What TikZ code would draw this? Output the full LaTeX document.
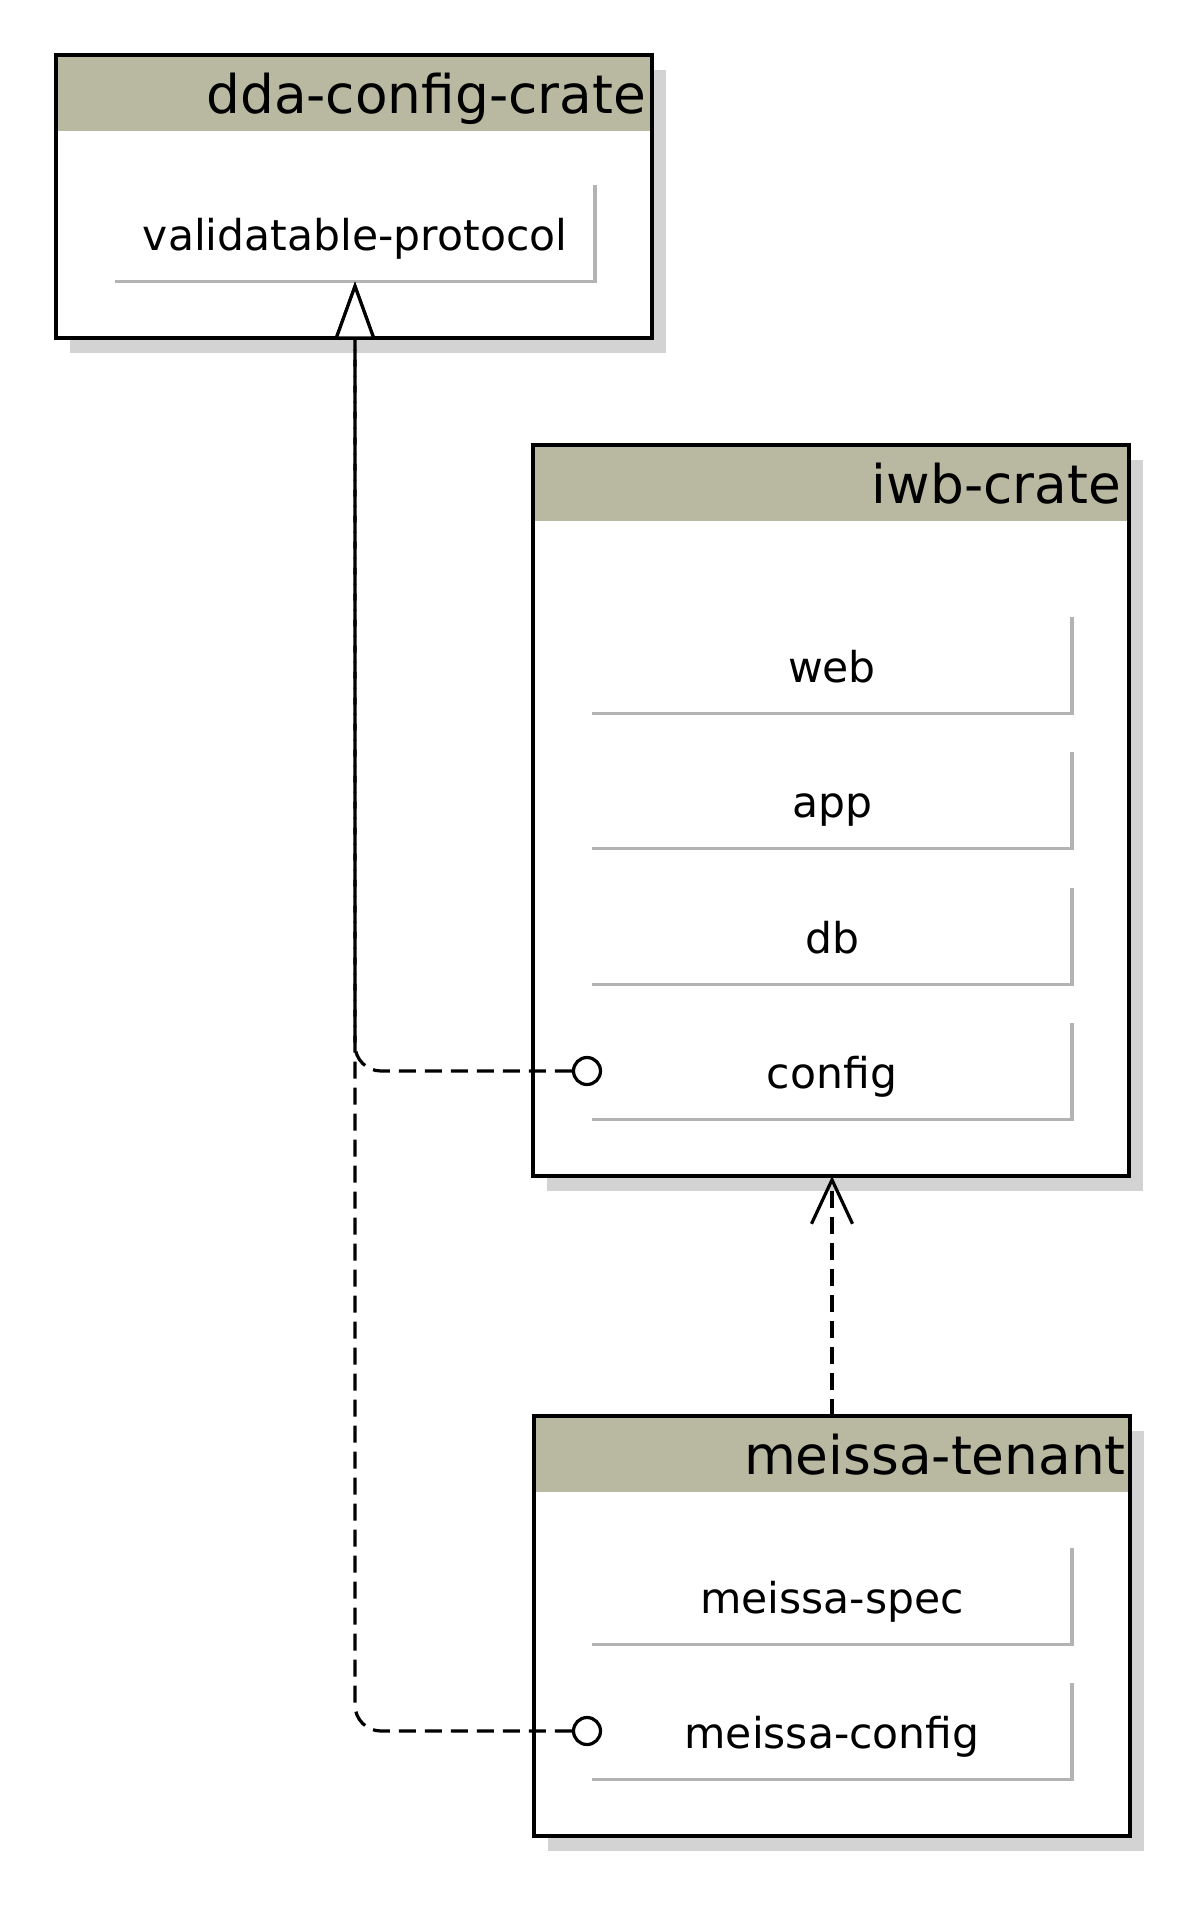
\documentclass[tikz,border=0pt]{standalone}
\usepackage{fontspec}
\setmainfont{DejaVu Sans}
\usepackage{tikz}
\usetikzlibrary{arrows.meta}
\usetikzlibrary{shadows}

\definecolor{headfill}{RGB}{184,185,160}
\definecolor{partgray}{RGB}{179,179,179}
\definecolor{shadowgray}{RGB}{211,211,211}

\tikzset{
  crate/.style={draw, line width=3.5pt, fill=white, anchor=north west,
    outer sep=0pt, inner sep=0pt, minimum width=596pt,
    drop shadow={shadow xshift=14pt, shadow yshift=-15pt,
      fill=shadowgray, opacity=1}},
  cratetitle/.style={anchor=base east, inner sep=0pt,
    font=\fontsize{53.3}{60}\selectfont},
  part/.style={minimum width=480pt, minimum height=97pt, inner sep=0pt,
    outer sep=0pt, text height=34pt, text depth=0pt,
    font=\fontsize{42.5}{50}\selectfont},
  partline/.style={draw=partgray, line width=3.2pt},
  port/.style={circle, draw, line width=3.2pt, fill=white,
    minimum size=27pt, inner sep=0pt},
  dep/.style={line width=3.2pt, dash pattern=on 17pt off 9pt},
}

\begin{document}
\begin{tikzpicture}[x=1pt, y=-1pt]
    \useasboundingbox (0,0) rectangle (1200,1907);
    \node[crate, minimum height=283pt] (dda) at (56,55) {};
    \node[crate, minimum height=731pt] (iwb) at (533,445) {};
    \node[crate, minimum height=420pt] (meissa) at (534,1416) {};
    \foreach \c in {dda, iwb, meissa}
      \fill[headfill] ([shift={(1.75,1.75)}]\c.north west)
                      rectangle ([shift={(-1.75,76)}]\c.north east);
    \node[cratetitle] (ddaname) at ([shift={(-6,58)}]dda.north east)
                                       {dda-config-crate};
    \node[cratetitle] (iwbname) at ([shift={(-8,58)}]iwb.north east)
                                       {iwb-crate};
    \node[cratetitle] (meissaname) at ([shift={(-4,58)}]meissa.north east)
                                       {meissa-tenant};

    \node[part] (proto) at (355,233) {validatable-protocol};
    \node[part] (web) at (832,665) {web};
    \node[part] (app) at (832,800) {app};
    \node[part] (db) at (832,936) {db};
    \node[part] (config) at (832,1071) {config};
    \node[part] (spec) at (832,1596) {meissa-spec};
    \node[part] (mconfig) at (832,1731) {meissa-config};
    \foreach \p in {proto, web, app, db, config, spec, mconfig}
      \draw[partline] (\p.south west) -- (\p.south east) -- (\p.north east);

    \node[port] (configport) at ([xshift=-5]config.west) {};
    \node[port] (mconfigport) at ([xshift=-5]mconfig.west) {};

    \draw[dep, rounded corners=26pt,
          -{Triangle[length=58pt, width=41pt, fill=white, line width=3.2pt]}]
      (configport.west) -- (configport.west -| proto.south) -- (proto.south);
    \draw[dep, rounded corners=26pt,
          -{Triangle[length=58pt, width=41pt, fill=white, line width=3.2pt]}]
      (mconfigport.west) -- (mconfigport.west -| proto.south) -- (proto.south);
    \draw[dep, -{Straight Barb[length=44pt, width=41pt, line width=3.2pt]}]
      (meissa.north) -- (meissa.north |- iwb.south);
\end{tikzpicture}
\end{document}
